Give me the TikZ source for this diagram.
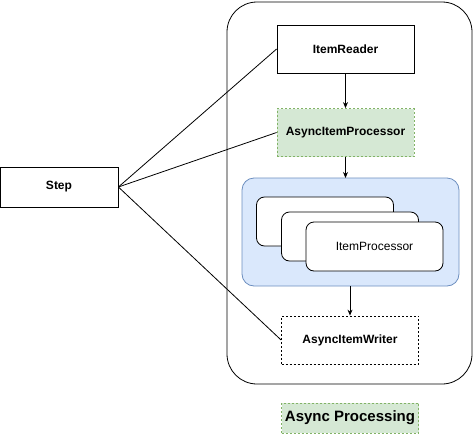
\documentclass[tikz,border=0pt]{standalone}
\usepackage{fontspec}
\setmainfont{Liberation Sans}
\usetikzlibrary{arrows.meta}
\definecolor{greenfill}{HTML}{D5E8D4}
\definecolor{greenline}{HTML}{82B366}
\definecolor{bluefill}{HTML}{DAE8FC}
\definecolor{blueline}{HTML}{6C8EBF}
\begin{document}
\begin{tikzpicture}[x=1pt,y=-1pt,line width=0.8pt,
    box/.style={draw,minimum width=137pt,minimum height=48pt,inner sep=0pt,font=\fontsize{12}{14}\selectfont\bfseries},
    asyncbox/.style={box,dashed,draw=greenline,fill=greenfill,dash pattern=on 2pt off 2pt},
    proc/.style={draw,fill=white,rounded corners=8pt,minimum width=137pt,minimum height=49pt,inner sep=0pt,font=\fontsize{12}{14}\selectfont},
    link/.style={-{Stealth[length=6pt,width=5pt]}}]
    \useasboundingbox (0,0) rectangle (474,434);
    % container
    \draw[rounded corners=30pt] (227,2) rectangle (472,384);
    \draw[draw=blueline,fill=bluefill,rounded corners=12pt] (242,178) rectangle (459,286);
    \coordinate (PT) at (345.5,178);
    \coordinate (PB) at (350,286);
    % nodes
    \node[box] (R) at (345.5,49) {ItemReader};
    \node[asyncbox] (AP) at (345.5,132.5) {AsyncItemProcessor};
    \node[proc] (P1) at (325,221.5) {};
    \node[proc] (P2) at (350,236.5) {};
    \node[proc] (P3) at (374.5,246.5) {ItemProcessor};
    \node[box,dashed,dash pattern=on 2pt off 2pt] (W) at (350,340) {AsyncItemWriter};
    \node[box,minimum width=118pt,minimum height=40pt] (S) at (59,187) {Step};
    \node[asyncbox,minimum height=30pt,font=\fontsize{15}{17}\selectfont\bfseries] (L) at (350,418) {Async Processing};
    % connectors
    \draw[link] (R) -- (AP);
    \draw[link] (AP) -- (PT);
    \draw[link] (PB) -- (W);
    \foreach \n in {R,AP,W}
        \draw (S.east) -- (\n.west);
\end{tikzpicture}
\end{document}
